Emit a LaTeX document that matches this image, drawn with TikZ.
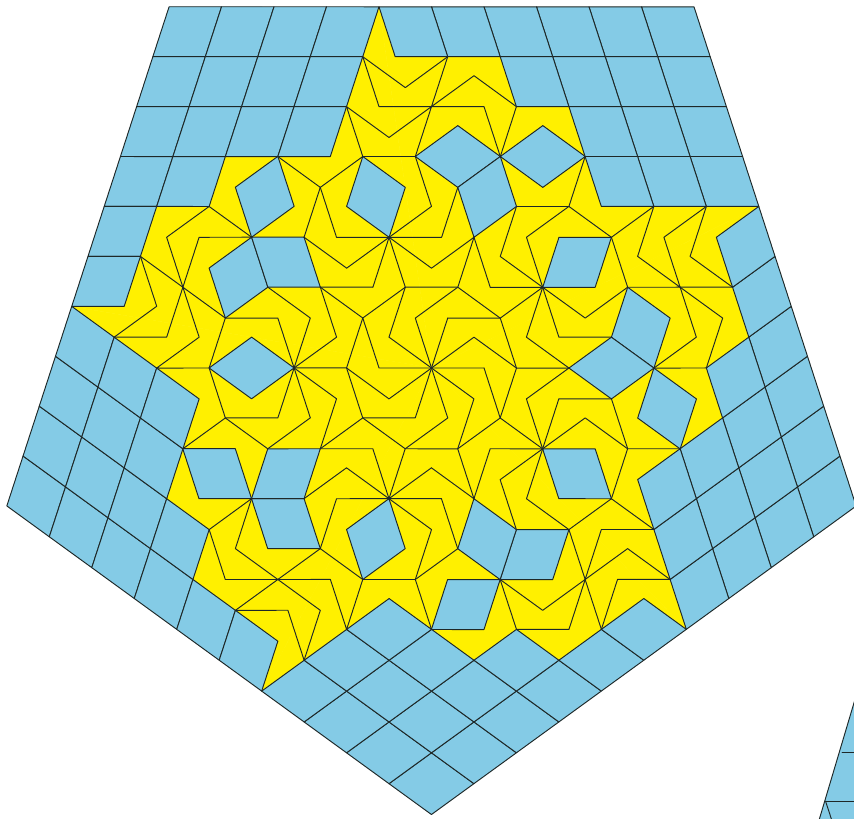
\documentclass[tikz,border=0pt]{standalone}
\definecolor{tileblue}{RGB}{132,203,230}
\definecolor{tileyellow}{RGB}{255,240,0}
\definecolor{edgedark}{RGB}{30,40,40}
\tikzset{
  edgeline/.style={draw=edgedark,line width=0.95pt,line join=round,line cap=round},
  bluetile/.style={edgeline,fill=tileblue},
  yellowfill/.style={fill=tileyellow,draw=tileyellow,line width=0.4pt}
}
\begin{document}
\begin{tikzpicture}[x=1pt,y=-1pt]
\useasboundingbox (0,0) rectangle (854,819);
\clip (0,0) rectangle (854,819);
% yellow star
\foreach \r in {0,72,144,216,288}{
\begin{scope}[rotate around={-\r:(431.5,368)},shift={(431.5,368)}]
  \coordinate (c0) at (0,0);
  \fill[yellowfill] (c0) -- (-52.5,-361.2) -- (-36.3,-311.3) -- (68.7,-311.3) -- (84.9,-261.4)
     -- (137.4,-261.4) -- (153.6,-211.5) -- (169.8,-161.6) -- (327.3,-161.6) -- cycle;
\end{scope}}
% blue border grid
\foreach \r in {0,72,144,216,288}{
\begin{scope}[rotate around={-\r:(431.5,368)},shift={(431.5,368)}]
  \foreach \j/\n in {0/5,1/3,2/2,3/2}{
    \foreach \i in {0,...,\n}{
      \path[bluetile] ({262.5-52.5*\i+16.2*\j},{-361.2+49.9*\j}) -- ++(-52.5,0) -- ++(16.2,49.9) -- ++(52.5,0) -- cycle;
    }
  }
\end{scope}}
% inner tiles and edges
\foreach \r in {0,72,144,216,288}{
\begin{scope}[rotate around={-\r:(431.5,368)},shift={(431.5,368)}]
  \coordinate (C) at (0,0);
  \coordinate (P1) at (16.2,-49.9);
  \coordinate (P2) at (-16.2,-49.9);
  \coordinate (Q) at (26.3,-80.8);
  \coordinate (Q2) at (-26.2,-80.8);
  \coordinate (M1) at (68.7,-49.9);
  \coordinate (A3) at (-42.5,-30.9);
  \coordinate (H) at (-42.4,-130.7);
  \coordinate (K) at (42.5,-130.7);
  \coordinate (Z1) at (0,-99.8);
  \coordinate (Ha) at (10.1,-130.7);
  \coordinate (U) at (26.3,-180.6);
  \coordinate (Z2) at (0,-161.6);
  \coordinate (V) at (-16.2,-211.5);
  \coordinate (W) at (68.8,-211.5);
  \coordinate (X) at (85,-161.6);
  \coordinate (Y) at (137.5,-161.6);
  \coordinate (T) at (0,-261.4);
  \coordinate (N1) at (16.2,-311.3);
  \coordinate (N0) at (-68.7,-311.3);
  \coordinate (Ta) at (-52.5,-261.4);
  \coordinate (Nd) at (-26.2,-280.4);
  \coordinate (Td) at (42.5,-292.3);
  \coordinate (Tdc) at (84.9,-261.4);
  \coordinate (Tb) at (52.5,-261.4);
  \coordinate (Tm) at (-42.5,-230.5);
  \coordinate (Tn) at (-85,-261.4);
  \coordinate (G) at (-68.7,-211.5);
  \coordinate (G1) at (-26.2,-180.6);
  \coordinate (G2) at (-84.9,-161.6);
  \coordinate (J) at (-111.2,-180.6);
  \coordinate (Mm) at (-153.7,-211.5);
  \coordinate (L) at (-95,-130.7);
  \coordinate (H1) at (-84.9,-99.8);
  \coordinate (H2) at (-58.6,-80.8);
  \coordinate (X1) at (68.8,-111.7);
  \coordinate (K1) at (58.7,-80.8);
  \coordinate (R1a) at (26.3,-242.4);
  \coordinate (R3a) at (111.3,-242.4);
  \coordinate (R3b) at (153.8,-211.5);
  \coordinate (R3c) at (111.3,-180.6);
  % blue rhombi
  \path[bluetile] (V) -- (R1a) -- (W) -- (U) -- cycle;
  \path[bluetile] (W) -- (X) -- (K) -- (U) -- cycle;
  \path[bluetile] (W) -- (R3a) -- (R3b) -- (R3c) -- cycle;
  \path[bluetile] (G) -- (G1) -- (H) -- (G2) -- cycle;
  % edges
  \path[edgeline] (C) -- (P1);
  \path[edgeline] (C) -- (P2) -- (Q) -- (M1);
  \path[edgeline] (H) -- (Q2) -- (A3);
  \path[edgeline] (Q2) -- (Q) -- (K);
  \path[edgeline] (H) -- (Z1) -- (K);
  \path[edgeline] (H) -- (Ha) -- (U);
  \path[edgeline] (H) -- (Z2) -- (V);
  \path[edgeline] (T) -- (N1);
  \path[edgeline] (N0) -- (Ta) -- (T);
  \path[edgeline] (N0) -- (Nd) -- (N1);
  \path[edgeline] (T) -- (Td) -- (Tdc) -- (W);
  \path[edgeline] (T) -- (Tb) -- (W);
  \path[edgeline] (Tn) -- (Tm) -- (T) -- (V) -- (G) -- (Tn);
  \path[edgeline] (X) -- (Y);
  \path[edgeline] (X) -- (X1);
  \path[edgeline] (K) -- (K1);
  \path[edgeline] (Mm) -- (J) -- (G);
  \path[edgeline] (J) -- (L) -- (H);
  \path[edgeline] (H) -- (H1);
  \path[edgeline] (H) -- (H2);
\end{scope}}
% fragment of the next pentagon
\coordinate (f0) at (859,686);
\coordinate (f1) at (842,752);
\coordinate (f2) at (825.5,801);
\coordinate (f3) at (817,827);
\coordinate (f4) at (860,827);
\coordinate (f5) at (860,752);
\coordinate (f6) at (860,801);
\coordinate (f7) at (834,827);
\path[fill=tileblue] (f0) -- (f3) -- (f4) -- cycle;
\path[edgeline] (f0) -- (f3);
\path[edgeline] (f1) -- (f5);
\path[edgeline] (f2) -- (f6);
\path[edgeline] (f2) -- (f7);
\end{tikzpicture}
\end{document}
